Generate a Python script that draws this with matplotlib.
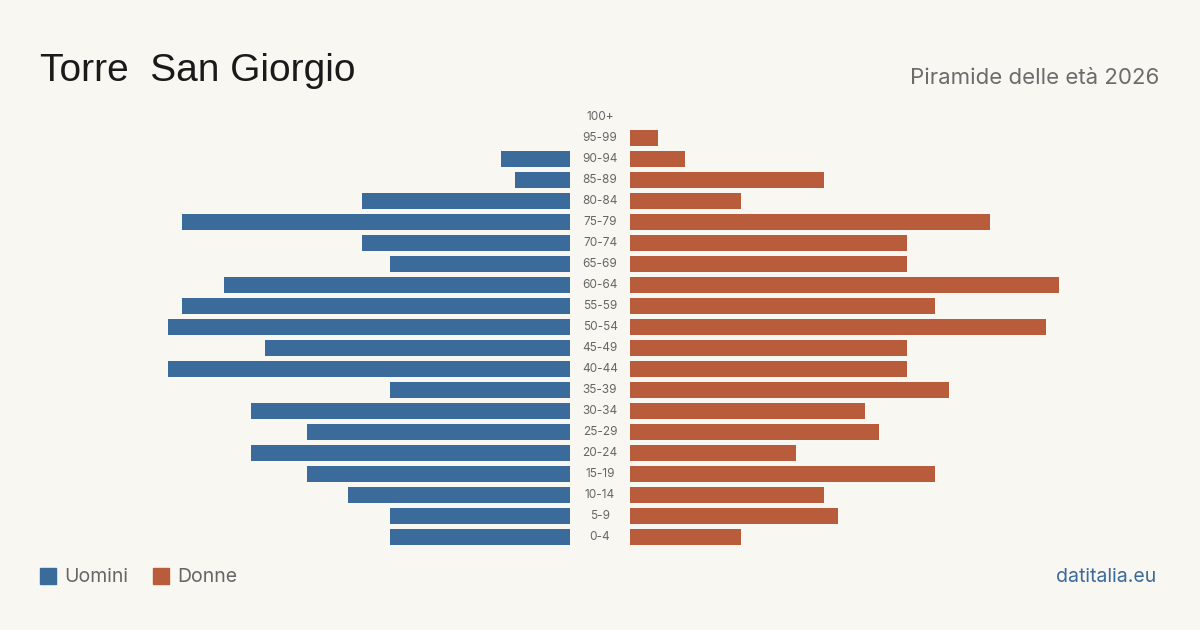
import matplotlib
matplotlib.use("Agg")
import matplotlib.pyplot as plt
from matplotlib.transforms import blended_transform_factory
from matplotlib.patches import Rectangle

plt.rcParams['font.family'] = ['Inter', 'DejaVu Sans']

age_groups = ["0-4", "5-9", "10-14", "15-19", "20-24", "25-29", "30-34", "35-39",
              "40-44", "45-49", "50-54", "55-59", "60-64", "65-69", "70-74", "75-79",
              "80-84", "85-89", "90-94", "95-99", "100+"]
men = [13, 13, 16, 19, 23, 19, 23, 13, 29, 22, 29, 28, 25, 13, 15, 28, 15, 4, 5, 0, 0]
women = [8, 15, 14, 22, 12, 18, 17, 23, 20, 20, 30, 22, 31, 20, 20, 26, 8, 14, 4, 2, 0]

BLUE = "#3b6b9b"
ORANGE = "#b95c3c"
BG = "#f9f7f2"

W, H = 1200, 630
fig = plt.figure(figsize=(W / 100, H / 100), dpi=100, facecolor=BG)

unit_px = 13.85
bottom = (H - 547.5) / H
height = 441 / H
left_l, right_l = 40, 570
left_r, right_r = 630, 1160
ax_l = fig.add_axes([left_l / W, bottom, (right_l - left_l) / W, height])
ax_r = fig.add_axes([left_r / W, bottom, (right_r - left_r) / W, height])

y = list(range(len(age_groups)))
ax_l.barh(y, men, height=0.8, color=BLUE)
ax_r.barh(y, women, height=0.8, color=ORANGE)
ax_l.set_xlim((right_l - left_l) / unit_px, 0)
ax_r.set_xlim(0, (right_r - left_r) / unit_px)
for ax in (ax_l, ax_r):
    ax.set_ylim(-0.5, len(age_groups) - 0.5)
    ax.axis("off")
    ax.set_facecolor("none")

tr = blended_transform_factory(fig.transFigure, ax_r.transData)
for yi, lab in zip(y, age_groups):
    fig.text(600 / W, yi, lab, transform=tr, ha="center", va="center",
             fontsize=8.5, color="#666666")

fig.text(40 / W, 1 - 81 / H, "Torre  San Giorgio", fontsize=28, color="#1a1a1a",
         ha="left", va="baseline", family=["Liberation Sans", "DejaVu Sans"])
fig.text(1159 / W, 1 - 84 / H, "Piramide delle età 2026", fontsize=16, color="#6b6b6b",
         ha="right", va="baseline")

fig.patches.append(Rectangle((40 / W, 1 - 584 / H), 16 / W, 16 / H,
                             transform=fig.transFigure, color=BLUE))
fig.patches.append(Rectangle((153 / W, 1 - 584 / H), 16 / W, 16 / H,
                             transform=fig.transFigure, color=ORANGE))
fig.text(64 / W, 1 - 577 / H, "Uomini", fontsize=14, color="#666666", ha="left", va="center")
fig.text(177 / W, 1 - 577 / H, "Donne", fontsize=14, color="#666666", ha="left", va="center")
fig.text(1156 / W, 1 - 577 / H, "datitalia.eu", fontsize=14, color=BLUE, ha="right", va="center")

fig.savefig("out.png", dpi=100, facecolor=BG)
